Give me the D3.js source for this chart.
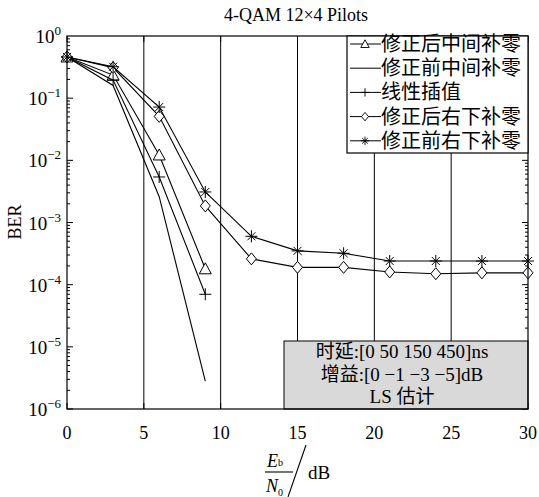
<!DOCTYPE html>
<html>
<head>
<meta charset="utf-8">
<script src="https://cdnjs.cloudflare.com/ajax/libs/d3/7.8.5/d3.min.js"></script>
<style>
  body { margin: 0; background: #fff; }
  text { font-family: "Liberation Serif", "Noto Sans CJK SC", serif; fill: #000; }
</style>
</head>
<body>
<div class="chart"></div>
<script>
// data
var snrA = [0, 3, 6, 9];
var snrB = [0, 3, 6, 9, 12, 15, 18, 21, 24, 27, 30];
var triAfter = [0.46, 0.235, 0.0122, 1.8e-4];          // 修正后中间补零
var plainBefore = [0.46, 0.16, 2.6e-3, 2.8e-6];        // 修正前中间补零
var linInterp = [0.46, 0.195, 5.4e-3, 7.0e-5];         // 线性插值
var diaAfter = [0.46, 0.31, 0.051, 1.85e-3, 2.6e-4, 1.9e-4, 1.9e-4, 1.6e-4, 1.5e-4, 1.55e-4, 1.55e-4];
var starBefore = [0.46, 0.32, 0.072, 3.1e-3, 6.0e-4, 3.5e-4, 3.2e-4, 2.4e-4, 2.4e-4, 2.4e-4, 2.4e-4];
var legendNames = ['修正后中间补零', '修正前中间补零', '线性插值', '修正后右下补零', '修正前右下补零'];
var xTicks = [0, 5, 10, 15, 20, 25, 30];
var yExps = [0, -1, -2, -3, -4, -5, -6];
var noteLines = ['时延:[0 50 150 450]ns', '增益:[0 \u22121 \u22123 \u22125]dB', 'LS 估计'];

var series = [
  { x: snrA, y: triAfter, mark: 'tri' },
  { x: snrA, y: plainBefore, mark: 'none' },
  { x: snrA, y: linInterp, mark: 'plus' },
  { x: snrB, y: diaAfter, mark: 'dia' },
  { x: snrB, y: starBefore, mark: 'star' }
];

var svg = d3.select('.chart').append('svg')
  .attr('width', 539)
  .attr('height', 497);

// plot box
var pL = 67, pR = 528, pT = 36, pB = 409;

var x = d3.scaleLinear().domain([0, 30]).range([pL, pR]);
var y = d3.scaleLog().domain([1e-6, 1]).range([pB, pT]);

// vertical grid lines
svg.selectAll('.grid')
  .data(xTicks.slice(1, -1))
  .enter().append('line')
  .attr('x1', function(d) { return x(d); })
  .attr('x2', function(d) { return x(d); })
  .attr('y1', pT).attr('y2', pB)
  .attr('stroke', '#000').attr('stroke-width', 1);

// minor/major y ticks on both sides
var yTickVals = [];
for (var e = -6; e < 0; e++) {
  for (var m = 1; m < 10; m++) yTickVals.push({ v: m * Math.pow(10, e), major: m === 1 });
}
[pL, pR].forEach(function(px) {
  var dir = px === pL ? 1 : -1;
  svg.selectAll(null).data(yTickVals).enter().append('line')
    .attr('x1', px).attr('x2', function(d) { return px + dir * (d.major ? 6 : 3); })
    .attr('y1', function(d) { return y(d.v); })
    .attr('y2', function(d) { return y(d.v); })
    .attr('stroke', '#000');
});
// x ticks top and bottom
[pT, pB].forEach(function(py) {
  var dir = py === pB ? -1 : 1;
  svg.selectAll(null).data(xTicks).enter().append('line')
    .attr('x1', function(d) { return x(d); })
    .attr('x2', function(d) { return x(d); })
    .attr('y1', py).attr('y2', py + dir * 6)
    .attr('stroke', '#000');
});

// annotation box
var noteBox = svg.append('g');
noteBox.append('rect')
  .attr('x', 284).attr('y', 341).attr('width', pR - 284).attr('height', pB - 341)
  .attr('fill', '#d9d9d9').attr('stroke', '#000').attr('stroke-width', 1);
noteBox.selectAll('text').data(noteLines).enter().append('text')
  .attr('x', 402).attr('y', function(d, i) { return 358 + i * 22.5; })
  .attr('text-anchor', 'middle')
  .attr('font-size', 19)
  .text(function(d) { return d; });

// lines
var line = d3.line()
  .x(function(d) { return x(d[0]); })
  .y(function(d) { return y(d[1]); });

function markerPath(k) {
  if (k === 'tri') return 'M0,-6L6,5L-6,5Z';
  if (k === 'dia') return 'M0,-6L5,0L0,6L-5,0Z';
  if (k === 'plus') return 'M-6,0H6M0,-6V6';
  if (k === 'star') return 'M-6,0H6M0,-6V6M-4,-4L4,4M-4,4L4,-4';
  return '';
}

series.forEach(function(s) {
  var pts = s.x.map(function(v, i) { return [v, s.y[i]]; });
  svg.append('path').datum(pts)
    .attr('d', line)
    .attr('fill', 'none').attr('stroke', '#000').attr('stroke-width', 1.1);
  if (s.mark !== 'none') {
    svg.selectAll(null).data(pts).enter().append('path')
      .attr('transform', function(d) { return 'translate(' + x(d[0]) + ',' + y(d[1]) + ')'; })
      .attr('d', markerPath(s.mark))
      .attr('fill', s.mark === 'tri' || s.mark === 'dia' ? '#fff' : 'none')
      .attr('stroke', '#000').attr('stroke-width', 1);
  }
});

// frame
svg.append('rect')
  .attr('x', pL).attr('y', pT).attr('width', pR - pL).attr('height', pB - pT)
  .attr('fill', 'none').attr('stroke', '#000').attr('stroke-width', 1.2);

// legend
var lg = svg.append('g');
lg.append('rect')
  .attr('x', 347).attr('y', pT).attr('width', pR - 347).attr('height', 117)
  .attr('fill', '#fff').attr('stroke', '#000').attr('stroke-width', 1.2);
var marks = ['tri', 'none', 'plus', 'dia', 'star'];
legendNames.forEach(function(name, i) {
  var cy = 44 + i * 24.2;
  lg.append('line').attr('x1', 350).attr('x2', 381).attr('y1', cy).attr('y2', cy)
    .attr('stroke', '#000');
  if (marks[i] !== 'none') {
    lg.append('path').attr('transform', 'translate(365,' + cy + ') scale(0.7)')
      .attr('d', markerPath(marks[i]))
      .attr('fill', marks[i] === 'tri' || marks[i] === 'dia' ? '#fff' : 'none')
      .attr('stroke', '#000').attr('stroke-width', 1.3);
  }
  lg.append('text').attr('x', 381).attr('y', cy + 7)
    .attr('font-size', 20)
    .attr('font-family', '"Noto Sans CJK SC", sans-serif')
    .attr('fill', '#222')
    .text(name);
});

// x tick labels
svg.selectAll('.xl').data(xTicks).enter().append('text')
  .attr('x', function(d) { return x(d); })
  .attr('y', 439)
  .attr('text-anchor', 'middle')
  .attr('font-size', 18)
  .text(function(d) { return d; });

// y tick labels 10^n
yExps.forEach(function(n) {
  var t = svg.append('text')
    .attr('x', 61).attr('y', y(Math.pow(10, n)) + 7)
    .attr('text-anchor', 'end')
    .attr('font-size', 19);
  t.append('tspan').text('10');
  t.append('tspan').attr('dy', -8).attr('font-size', 13)
    .text(n === 0 ? '0' : '\u2212' + (-n));
});

// title
svg.append('text').attr('x', 296).attr('y', 21)
  .attr('text-anchor', 'middle').attr('font-size', 18)
  .text('4-QAM 12×4 Pilots');

// y label
svg.append('text')
  .attr('transform', 'translate(21,222) rotate(-90)')
  .attr('text-anchor', 'middle').attr('font-size', 18)
  .text('BER');

// x label: Eb/N0 / dB
var xl = svg.append('g');
var eb = xl.append('text').attr('x', 267).attr('y', 467).attr('font-size', 18);
eb.append('tspan').attr('font-style', 'italic').text('E');
eb.append('tspan').attr('font-size', 10).attr('dy', -1).text('b');
xl.append('line').attr('x1', 265).attr('x2', 293).attr('y1', 472).attr('y2', 472)
  .attr('stroke', '#000').attr('stroke-width', 1.1);
var n0 = xl.append('text').attr('x', 266).attr('y', 492).attr('font-size', 18);
n0.append('tspan').attr('font-style', 'italic').text('N');
n0.append('tspan').attr('font-size', 10).attr('dy', 4).text('0');
xl.append('line').attr('x1', 306).attr('x2', 288).attr('y1', 445).attr('y2', 497)
  .attr('stroke', '#000').attr('stroke-width', 1.1);
xl.append('text').attr('x', 308).attr('y', 479).attr('font-size', 19).text('dB');
</script>
</body>
</html>
